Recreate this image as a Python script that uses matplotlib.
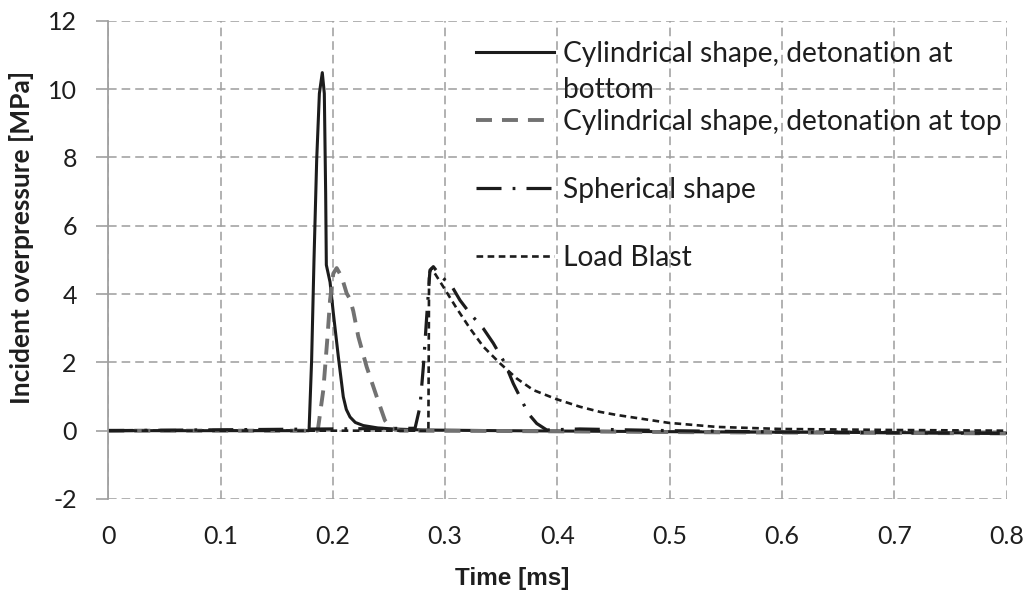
import matplotlib
matplotlib.use("Agg")
import matplotlib.pyplot as plt

plt.rcParams['lines.scale_dashes'] = False
plt.rcParams['axes.unicode_minus'] = False
plt.rcParams['font.family'] = ['Lato', 'DejaVu Sans']

# ---------------- data ----------------
labels = ["Cylindrical shape, detonation at",
          "Cylindrical shape, detonation at top",
          "Spherical shape",
          "Load Blast"]
label_wrap = "bottom"

t_bottom = [0.0, 0.1788, 0.1811, 0.1832, 0.1856, 0.1880, 0.1906, 0.1924, 0.1936, 0.1942,
            0.1975, 0.2004, 0.2049, 0.2093, 0.2120, 0.2153, 0.2200, 0.2271, 0.2400, 0.2539,
            0.28, 0.35, 0.45, 0.55, 0.65, 0.8]
p_bottom = [0.0, 0.0, 2.07, 4.99, 7.92, 9.87, 10.48, 9.87, 6.95, 4.85,
            4.35, 3.45, 2.16, 0.99, 0.62, 0.4, 0.24, 0.15, 0.08, 0.05,
            0.02, 0.0, -0.02, -0.04, -0.05, -0.07]

t_top = [0.0, 0.1862, 0.1870, 0.1915, 0.1950, 0.1975, 0.2004, 0.2034, 0.2079, 0.2123,
         0.2153, 0.2182, 0.2227, 0.2301, 0.2390, 0.2464, 0.2520, 0.26, 0.35, 0.45,
         0.55, 0.65, 0.8]
p_top = [0.0, 0.0, 0.11, 1.19, 2.65, 3.82, 4.6, 4.76, 4.5, 4.02,
         3.85, 3.5, 2.75, 1.87, 1.0, 0.3, 0.08, 0.0, -0.01, -0.03,
         -0.05, -0.06, -0.08]

t_sphere = [0.0, 0.2732, 0.2776, 0.2806, 0.2836, 0.2865, 0.2895, 0.2954, 0.3059, 0.3132,
            0.3222, 0.3340, 0.3429, 0.3533, 0.3607, 0.3741, 0.3816, 0.3905, 0.42, 0.5,
            0.6, 0.7, 0.8]
p_sphere = [0.0, 0.07, 0.7, 1.87, 3.34, 4.7, 4.8, 4.55, 4.23, 3.82,
            3.43, 2.99, 2.56, 1.97, 1.38, 0.5, 0.21, 0.02, 0.05, 0.0,
            -0.04, -0.06, -0.08]

t_load = [0.0, 0.2851, 0.2857, 0.2880, 0.2984, 0.3103, 0.3222, 0.3340, 0.3489, 0.3637,
          0.3785, 0.3985, 0.4201, 0.4379, 0.4528, 0.4988, 0.5419, 0.5989, 0.7, 0.8]
p_load = [0.0, 0.0, 4.6, 4.75, 4.21, 3.58, 2.99, 2.46, 1.97, 1.53,
          1.19, 0.93, 0.7, 0.55, 0.46, 0.23, 0.11, 0.05, 0.02, 0.0]

x_ticks = [0, 0.1, 0.2, 0.3, 0.4, 0.5, 0.6, 0.7, 0.8]
x_tick_labels = ["0", "0.1", "0.2", "0.3", "0.4", "0.5", "0.6", "0.7", "0.8"]
y_ticks = [-2, 0, 2, 4, 6, 8, 10, 12]
y_tick_labels = ["-2", "0", "2", "4", "6", "8", "10", "12"]

# ---------------- figure ----------------
W, H = 1028, 595
fig = plt.figure(figsize=(W / 100, H / 100), dpi=100)
L, R, T, B = 108.3, 1006.5, 20.7, 499.0
ax = fig.add_axes([L / W, 1 - B / H, (R - L) / W, (B - T) / H])

TXT = '#1e1e1e'
GRID = '#a0a0a0'

styles = [
    dict(color='#1c1c1c', linewidth=2.2, linestyle='-'),
    dict(color='#727272', linewidth=2.8, linestyle=(0, (11.5, 7.2))),
    dict(color='#1c1c1c', linewidth=2.3, linestyle=(0, (18, 8, 2, 8))),
    dict(color='#1c1c1c', linewidth=1.9, linestyle=(0, (4.8, 3.2))),
]
data = [(t_bottom, p_bottom), (t_top, p_top), (t_sphere, p_sphere), (t_load, p_load)]
handles = []
for (t, p), st, lab in zip(data, styles, labels):
    ln, = ax.plot(t, p, label=lab, **st)
    handles.append(ln)

ax.set_xlim(0, 0.8)
ax.set_ylim(-2, 12)
ax.set_xticks(x_ticks)
ax.set_xticklabels(x_tick_labels)
ax.set_yticks(y_ticks)
ax.set_yticklabels(y_tick_labels)
ax.grid(True, color=GRID, linewidth=1.15, linestyle=(0, (6.2, 3.6)))
ax.set_axisbelow(True)
for s in ['top', 'right', 'bottom']:
    ax.spines[s].set_visible(False)
ax.spines['left'].set_color(GRID)
ax.spines['left'].set_linewidth(1.3)
ax.tick_params(axis='y', length=8.3, width=1.2, color=GRID, pad=14.4,
               labelsize=18, labelcolor=TXT)
ax.tick_params(axis='x', length=0, pad=19, labelsize=18, labelcolor=TXT)

fig.text(512.5 / W, 1 - 578 / H, 'Time [ms]', ha='center', va='center',
         fontfamily='Liberation Sans', fontweight='bold', fontsize=17.5, color=TXT)
fig.text(22 / W, 1 - 237 / H, 'Incident overpressure [MPa]', rotation=90,
         ha='center', va='center', fontweight='bold', fontsize=19, color=TXT)

# ---------------- legend ----------------
def make_legend(F, spacing):
    Fpx = F * 100 / 72
    return ax.legend(handles=handles, loc='center left',
                     bbox_to_anchor=((475.9 - L) / (R - L), 1 - (155.7 - T) / (B - T)),
                     frameon=False, borderpad=0, borderaxespad=0,
                     handlelength=78 / Fpx, handletextpad=9.3 / Fpx,
                     labelspacing=spacing, fontsize=F, labelcolor=TXT)

F = 16.0
leg = make_legend(F, 2.0)
fig.canvas.draw()
w = leg.get_texts()[1].get_window_extent().width
F = F * 439.0 / w
leg.remove()
leg = make_legend(F, 2.0)
fig.canvas.draw()
h = leg.get_texts()[0].get_window_extent().height
Fpx = F * 100 / 72
leg.remove()
leg = make_legend(F, (68.0 - h) / Fpx)
fig.canvas.draw()
bb = leg.get_texts()[0].get_window_extent()
fig.text(bb.x0 / W, ((bb.y0 + bb.y1) / 2 - 36.7) / H, label_wrap,
         ha='left', va='center', fontsize=F, color=TXT)

fig.savefig('out.png', dpi=100)
